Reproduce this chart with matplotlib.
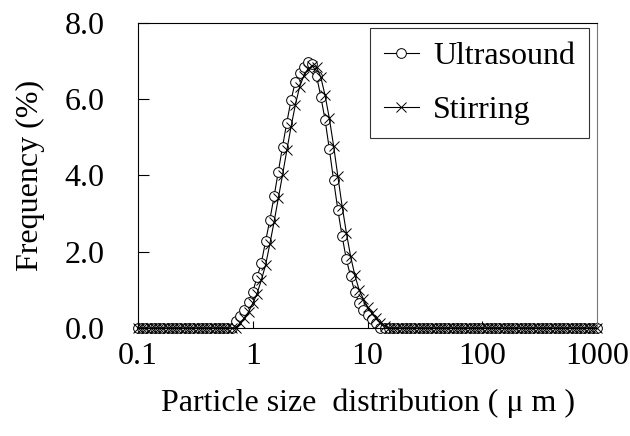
import matplotlib
matplotlib.use('Agg')
import matplotlib.pyplot as plt
from matplotlib.ticker import FixedLocator, FixedFormatter, NullLocator

plt.rcParams['font.family'] = ['Liberation Serif', 'DejaVu Serif']

# size channels (um): 27 per decade, 0.1 .. 1000
mantissas = [1.000, 1.089, 1.186, 1.292, 1.407, 1.532, 1.668, 1.817, 1.978,
             2.154, 2.346, 2.555, 2.783, 3.030, 3.300, 3.594, 3.914, 4.262,
             4.642, 5.055, 5.505, 5.995, 6.529, 7.110, 7.743, 8.432, 9.183]
decades = [0.1, 1.0, 10.0, 100.0]
sizes = [d * m for d in decades for m in mantissas] + [1000.0]

ultrasound = ([0.0] * 23 +
              [0.17, 0.30, 0.47, 0.69, 0.95, 1.33, 1.70, 2.27, 2.83, 3.45,
               4.10, 4.76, 5.39, 5.98, 6.46, 6.70, 6.86, 6.99, 6.93, 6.61,
               6.07, 5.46, 4.69, 3.88, 3.10, 2.41, 1.80, 1.35, 0.93, 0.66,
               0.47, 0.34, 0.23, 0.12] +
              [0.0] * 52)

stirring = ([0.0] * 24 +
            [0.13, 0.26, 0.42, 0.64, 0.90, 1.25, 1.65, 2.20, 2.78, 3.40,
             4.02, 4.66, 5.28, 5.85, 6.32, 6.62, 6.80, 6.88, 6.84, 6.58,
             6.10, 5.50, 4.78, 3.98, 3.20, 2.50, 1.88, 1.38, 1.00, 0.76,
             0.55, 0.38, 0.25, 0.13, 0.05] +
            [0.0] * 50)

x_ticks = [0.1, 1, 10, 100, 1000]
x_labels = ['0.1', '1', '10', '100', '1000']
y_ticks = [0.0, 2.0, 4.0, 6.0, 8.0]

FS = 23


def main():
    fig = plt.figure(figsize=(6.3, 4.36), dpi=100)
    ax = fig.add_axes([0.219, 0.248, 0.729, 0.699])

    ax.plot(sizes, ultrasound, '-', color='black', lw=0.8, marker='o',
            markersize=7, markerfacecolor='white', markeredgecolor='black',
            markeredgewidth=0.7, label='Ultrasound', clip_on=False)
    ax.plot(sizes, stirring, '-', color='black', lw=0.8, marker='x',
            markersize=7.5, markeredgewidth=0.7, label='Stirring', clip_on=False)

    ax.set_xscale('log')
    ax.set_xlim(0.1, 1000)
    ax.set_ylim(0, 8)
    ax.xaxis.set_major_locator(FixedLocator(x_ticks))
    ax.xaxis.set_major_formatter(FixedFormatter(x_labels))
    ax.xaxis.set_minor_locator(NullLocator())
    ax.set_yticks(y_ticks)
    ax.set_yticklabels(['%.1f' % v for v in y_ticks])

    ax.tick_params(axis='y', direction='in', length=8, width=0.8,
                   labelsize=FS, pad=24)
    ax.tick_params(axis='x', direction='in', length=5, width=0.8,
                   labelsize=FS, pad=10)
    for sp in ax.spines.values():
        sp.set_linewidth(0.8)
    ax.spines['right'].set_color('#777777')

    ax.set_xlabel('Particle size  distribution ( \u03bc m )', fontsize=FS,
                  labelpad=13)
    ax.set_ylabel('Frequency (%)', fontsize=FS, labelpad=14)

    leg = ax.legend(loc='upper right', bbox_to_anchor=(0.981, 0.984),
                    borderaxespad=0, fontsize=FS, frameon=True, fancybox=False,
                    edgecolor='black', handlelength=1.1, handletextpad=0.45,
                    labelspacing=0.77, borderpad=0.42)
    leg.get_frame().set_linewidth(0.8)

    fig.savefig('out.png', dpi=100)


if __name__ == '__main__':
    main()
